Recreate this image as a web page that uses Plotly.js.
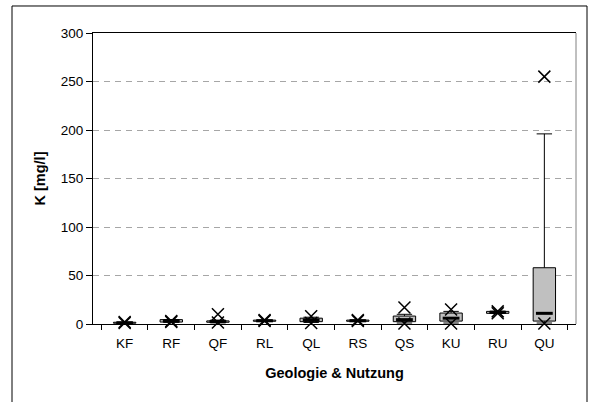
<!DOCTYPE html>
<html>
<head>
<meta charset="utf-8">
<script src="https://cdn.plot.ly/plotly-3.0.1.min.js"></script>
<style>html,body{margin:0;padding:0;background:#fff;}</style>
</head>
<body>
<div id="chart" style="width:589px;height:402px;"></div>
<script>
// Categories (Geologie & Nutzung)
const categories = ["KF", "RF", "QF", "RL", "QL", "RS", "QS", "KU", "RU", "QU"];
// Box statistics, K [mg/l]
const q1Values      = [0.8, 2.0, 1.8, 2.8, 2.4, 2.8, 2.4, 3.0, 11.0, 3.0];
const medianValues  = [1.2, 3.0, 2.5, 3.3, 4.0, 3.3, 4.5, 6.0, 12.0, 11.0];
const q3Values      = [1.8, 4.5, 3.2, 4.0, 6.0, 4.0, 8.2, 11.3, 13.0, 58.0];
const lowerWhisker  = [0.6, 1.8, 1.2, 2.6, 1.6, 2.6, 1.0, 1.0, 10.8, 1.0];
const upperWhisker  = [2.0, 4.6, 4.0, 4.2, 7.0, 4.2, 10.0, 13.0, 13.2, 196.0];
const minValues     = [1.0, 2.0, 1.5, 3.0, 1.0, 3.0, 0.5, 0.5, 11.0, 0.5];
const maxValues     = [2.0, 3.0, 10.0, 4.0, 8.0, 4.0, 17.0, 15.0, 13.0, 255.0];
const yTickValues   = [0, 50, 100, 150, 200, 250, 300];

const FONT = "Liberation Sans, Arial, sans-serif";

// whisker segments (vertical lines from box edge to whisker end)
const wx = [], wy = [];
categories.forEach((c, i) => {
  wx.push(c, c, null, c, c, null);
  wy.push(q3Values[i], upperWhisker[i], null, q1Values[i], lowerWhisker[i], null);
});

const traces = [
  {
    type: "scatter", mode: "lines", x: wx, y: wy,
    line: {color: "#000", width: 1}, hoverinfo: "skip", cliponaxis: false
  },
  {
    type: "scatter", mode: "markers", x: categories.concat(categories),
    y: upperWhisker.concat(lowerWhisker),
    marker: {symbol: "line-ew", size: 11, line: {color: "#000", width: 1}},
    hoverinfo: "skip", cliponaxis: false
  },
  {
    type: "bar", x: categories,
    y: q3Values.map((v, i) => v - q1Values[i]),
    base: q1Values, width: 0.48,
    marker: {color: "#c0c0c0", line: {color: "#000", width: 1}},
    hoverinfo: "skip"
  },
  {
    type: "scatter", mode: "markers", x: categories, y: medianValues,
    marker: {symbol: "line-ew", size: 12, line: {color: "#000", width: 3}},
    hoverinfo: "skip", cliponaxis: false
  },
  {
    type: "scatter", mode: "markers", x: categories, y: maxValues,
    marker: {symbol: "x-thin", size: 12, line: {color: "#000", width: 1.5}},
    hoverinfo: "skip", cliponaxis: false
  },
  {
    type: "scatter", mode: "markers", x: categories, y: minValues,
    marker: {symbol: "x-thin", size: 12, line: {color: "#000", width: 1.5}},
    hoverinfo: "skip", cliponaxis: false
  }
];

const layout = {
  width: 589, height: 402,
  margin: {l: 93, r: 13, t: 33, b: 78},
  paper_bgcolor: "#fff", plot_bgcolor: "#fff",
  showlegend: false,
  font: {family: FONT, size: 13, color: "#000"},
  barmode: "overlay",
  xaxis: {
    type: "category",
    showline: true, linecolor: "#000", linewidth: 1, mirror: true,
    ticks: "outside", tickson: "boundaries", ticklen: 5, tickcolor: "#000",
    ticklabelstandoff: 7,
    showgrid: false, zeroline: false,
    tickfont: {family: FONT, size: 13.5},
    title: {text: "<b>Geologie &amp; Nutzung</b>", font: {family: FONT, size: 14.5}, standoff: 17}
  },
  yaxis: {
    range: [0, 300], tickvals: yTickValues,
    showline: true, linecolor: "#000", linewidth: 1,
    ticks: "outside", ticklen: 6, tickcolor: "#000",
    showgrid: true, gridcolor: "#a6a6a6", gridwidth: 1, griddash: "6px,5px",
    zeroline: false,
    tickfont: {family: FONT, size: 13.5},
    title: {text: "<b>K [mg/l]</b>", font: {family: FONT, size: 14.5}, standoff: 11}
  },
  shapes: [
    {type: "line", xref: "paper", yref: "paper", x0: 1, x1: 1, y0: 0, y1: 1,
     line: {color: "#808080", width: 1}},
    {type: "rect", xref: "paper", yref: "paper",
     x0: -0.1677, x1: 1.0228, y0: -0.30, y1: 1.0928,
     line: {color: "#000", width: 1}, fillcolor: "rgba(0,0,0,0)"}
  ]
};

Plotly.newPlot("chart", traces, layout, {displayModeBar: false, staticPlot: true});
</script>
</body>
</html>
